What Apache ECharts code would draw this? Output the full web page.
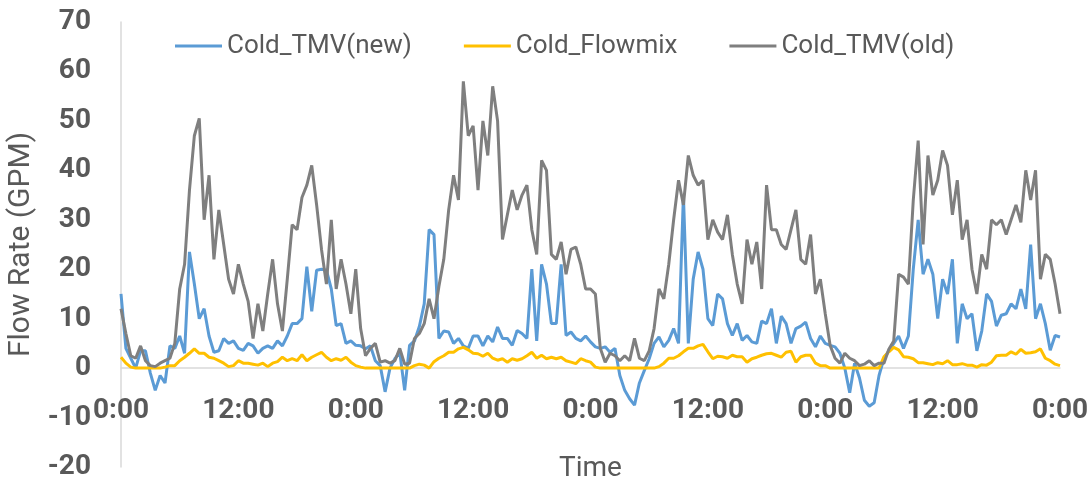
<!DOCTYPE html>
<html>
<head>
<meta charset="utf-8">
<script src="https://cdn.jsdelivr.net/npm/echarts@6/dist/echarts.min.js"></script>
<style>
  html, body { margin: 0; padding: 0; background: #fff; }
  #chart { width: 1091px; height: 483px; }
</style>
</head>
<body>
<div id="chart"></div>
<script>
// half-hour readings over 4 days, one row = 12 hours
const stepHours = 0.5;
const tickLabels = ["0:00", "12:00"];
const seriesNames = ["Cold_TMV(new)", "Cold_Flowmix", "Cold_TMV(old)"];

const tmvNew = [
  15,4,2,0,3.5,3.5,-1,-4.5,-1.5,-3,4.5,4,6.5,3,23.5,17,10,12,6.5,3.2,3.5,6,5,5.5,
  4,3.6,5,4.5,3,4,4.5,4,5.5,4.5,6.5,9,9,10,20.5,11.5,19.8,20,19.8,16,8.6,9,5,5.5,
  4.6,4.5,3.9,4.5,1.5,0.5,-4.8,0,1.9,3.2,-4.5,4.6,5.5,8.4,13,28,27,6,7.5,7.3,5,6,4.5,4,
  6.5,6.5,4.5,6.5,5.3,8.3,6,6,4.6,7.6,7,6,20,5.5,21,17,9,9,21,6.6,7.3,6,5.5,6.5,
  5.3,4.3,4,4.3,3.2,4,-1.5,-4.5,-6.2,-7.5,-3,-0.5,1.9,5,6.3,4.3,5.6,8,5,35,5,18,23.5,20,
  10,8.6,15,14,9,6.6,9,5.6,6.6,5.3,5,9.5,9,12,5,10.5,9,5,8,8.5,9.3,6,4.3,6.5,
  5,4.6,4.3,3,0,-5,1,-2,-6.5,-7.7,-7,-1.5,2,3.5,5,6.5,4,6.5,20,30,19,22,19,10,
  18,15,22,5,13,10,11,3.5,7.5,15,13.5,8.5,10.7,11,13,12,16,12,25,10,13,9,3.6,6.6,
  6.3
];

const flowmix = [
  2.2,1,0.2,0,0,0,0,0,0,0.2,0.5,0.5,1.5,2.2,3,3.9,3,3,2.2,2,1.5,1,0.3,0.5,
  1.5,1,1,0.8,0.6,1,0.3,1,1.3,2.2,1.5,1.9,1.5,2.7,1.5,2.2,2.7,3.2,2.2,1.5,1.9,1.6,2.2,1.2,
  0.5,0.2,0,0,0,0,0,0,0,0,0,0,0.5,0.8,0.6,0,1.3,2,2.5,3.2,3.2,3.9,4.2,3.7,
  3,2.9,2.4,3,2,1.6,1.9,1.2,1.9,1.6,1.9,2.5,3.2,2,2.6,1.9,2.2,1.9,2.2,1.5,1.2,0.9,1.9,1.5,
  1.2,0.2,0,0,0,0,0,0,0,0,0,0,0,0,0.3,1,2,2,2.5,3.3,4,4,4.5,4.8,
  3.3,1.9,2.4,2.3,2,2.6,2.3,2.3,1.2,1.9,2.2,2.6,2.9,3,2.6,2.2,3.2,3.4,1.2,2.3,2.6,2.6,1,0.5,
  0.5,0,0,0,0,0,0,0,0,0,0,0,2.3,3.3,4.2,3.7,2.3,2.2,1.9,1.1,1.1,0.9,0.7,1.1,
  0.9,1.5,0.7,0.7,0.9,0.6,0.6,0.2,0.7,0.6,1.2,2.5,2.6,2.6,3.3,2.8,3.8,3,3.1,3.3,3.9,2,1.5,0.8,
  0.5
];

const tmvOld = [
  12,7,2.5,2,4.5,1.5,0.5,0.3,1,1.5,2,5,16,21,36,47,50.5,30,39,22,32,25,18,15,
  21,17,13.5,6,13,7.5,15,22,13,7.5,18,29,28,34.5,37,41,33,24,17,30,16,22,17,11,
  20,8,2.5,4,5,1.2,1.5,1,1.5,4,0.8,1,6,7,9,14,10,16.5,22,32,39,34,58,47,
  49,36,50,43,57,50,26,31,36,32,35,37,28,23,42,40,23,22,25.5,19,24,24.5,21,16,
  16,15,4,1.2,3,2.5,1.5,2.5,1.5,6,2,1.5,3.5,8,16,14,21,30,38,33,43,39,37,38,
  26,30,27.5,26,31,23,17,13,26,21,25.5,16,37,28,28,25,24,28,32,22,21,27,15,18,
  11,4.6,2,1,3,2,1.5,0.5,0.8,1.5,0.5,1,1,3.8,5.5,19,18.4,17,34,46,25,43,35,38,
  44,41,31,38,26,30,20,15,23,20,30,29,30,27,30,33,29.5,40,34,40,18,23,22,17,
  11
];

const colors = ["#5B9BD5", "#FFC000", "#7F7F7F"];
const textColor = "#595959";
const font = "Roboto";

function toPoints(values) {
  return values.map((v, i) => [i * stepHours, v]);
}

const chart = echarts.init(document.getElementById("chart"));

const option = {
  animation: false,
  color: colors,
  textStyle: { fontFamily: font },
  grid: {
    left: 121,
    right: 31,
    top: 22,
    bottom: 16,
    containLabel: false,
    outerBoundsMode: "none",
  },
  legend: {
    data: seriesNames,
    left: 170,
    top: 28,
    icon: "rect",
    itemWidth: 47,
    itemHeight: 3,
    itemGap: 52,
    textStyle: { fontSize: 26, color: textColor, fontFamily: font },
  },
  xAxis: {
    type: "value",
    min: 0,
    max: 96,
    interval: 12,
    name: "Time",
    nameLocation: "middle",
    // labels and name are laid out from the grid bottom, the line sits on zero
    nameGap: -12,
    nameTextStyle: { fontSize: 28, color: textColor, fontFamily: font },
    axisLine: { onZero: true, lineStyle: { color: "#D9D9D9", width: 1.5 } },
    axisTick: { show: false },
    splitLine: { show: false },
    axisLabel: {
      margin: -70,
      fontSize: 28,
      fontWeight: "bold",
      color: textColor,
      fontFamily: font,
      formatter: (v) => tickLabels[(v % 24) / 12],
    },
  },
  yAxis: {
    type: "value",
    min: -20,
    max: 70,
    interval: 10,
    name: "Flow Rate (GPM)",
    nameLocation: "middle",
    nameRotate: 90,
    nameGap: 78,
    nameTextStyle: { fontSize: 30, color: textColor, fontFamily: font },
    axisLine: { show: true, lineStyle: { color: "#D9D9D9", width: 1.5 } },
    axisTick: { show: false },
    splitLine: { show: false },
    axisLabel: {
      margin: 30,
      padding: [7, 0, 0, 0],
      fontSize: 28,
      fontWeight: "bold",
      color: textColor,
      fontFamily: font,
    },
  },
  series: [
    { name: seriesNames[0], type: "line", data: toPoints(tmvNew) },
    { name: seriesNames[1], type: "line", data: toPoints(flowmix) },
    { name: seriesNames[2], type: "line", data: toPoints(tmvOld) },
  ].map((s) => ({
    ...s,
    symbol: "none",
    lineStyle: { width: 3 },
  })),
};

chart.setOption(option);
</script>
</body>
</html>
